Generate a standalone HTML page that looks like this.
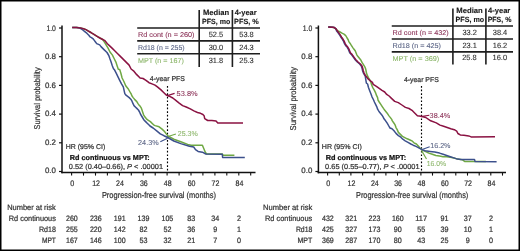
<!DOCTYPE html><html><head><meta charset="utf-8"><style>html,body{margin:0;padding:0;background:#fff;width:520px;height:251px;overflow:hidden}svg{display:block}text{font-family:"Liberation Sans",sans-serif;text-rendering:geometricPrecision;stroke:currentColor;stroke-width:0.22px}</style></head><body><svg style="will-change:transform" width="520" height="251" viewBox="0 0 520 251" font-family="Liberation Sans, sans-serif" fill="#333" color="#333">
<rect x="0" y="0" width="520" height="251" fill="#fff"/>
<line x1="62" y1="25.5" x2="62" y2="173.3" stroke="#111" stroke-width="1.5"/>
<line x1="61.3" y1="172.6" x2="255.5" y2="172.6" stroke="#111" stroke-width="1.5"/>
<line x1="59" y1="28.0" x2="62" y2="28.0" stroke="#111" stroke-width="1.2"/>
<text x="55.9" y="31" font-size="7.9" text-anchor="end" fill="#333333" color="#333333" textLength="9.5" lengthAdjust="spacingAndGlyphs">1.0</text>
<line x1="59" y1="56.7" x2="62" y2="56.7" stroke="#111" stroke-width="1.2"/>
<text x="55.9" y="59" font-size="7.9" text-anchor="end" fill="#333333" color="#333333" textLength="11.0" lengthAdjust="spacingAndGlyphs">0.8</text>
<line x1="59" y1="85.4" x2="62" y2="85.4" stroke="#111" stroke-width="1.2"/>
<text x="55.9" y="88" font-size="7.9" text-anchor="end" fill="#333333" color="#333333" textLength="11.0" lengthAdjust="spacingAndGlyphs">0.6</text>
<line x1="59" y1="114.1" x2="62" y2="114.1" stroke="#111" stroke-width="1.2"/>
<text x="55.9" y="116" font-size="7.9" text-anchor="end" fill="#333333" color="#333333" textLength="11.0" lengthAdjust="spacingAndGlyphs">0.4</text>
<line x1="59" y1="142.8" x2="62" y2="142.8" stroke="#111" stroke-width="1.2"/>
<text x="55.9" y="145" font-size="7.9" text-anchor="end" fill="#333333" color="#333333" textLength="11.0" lengthAdjust="spacingAndGlyphs">0.2</text>
<line x1="59" y1="171.5" x2="62" y2="171.5" stroke="#111" stroke-width="1.2"/>
<text x="55.9" y="173" font-size="7.9" text-anchor="end" fill="#333333" color="#333333" textLength="11.0" lengthAdjust="spacingAndGlyphs">0.0</text>
<line x1="71.6" y1="172.6" x2="71.6" y2="175.6" stroke="#111" stroke-width="1.1"/>
<text x="72.2" y="185.7" font-size="8.0" text-anchor="middle" fill="#333333" color="#333333" textLength="4.0" lengthAdjust="spacingAndGlyphs">0</text>
<line x1="83.5" y1="172.6" x2="83.5" y2="175.6" stroke="#111" stroke-width="1.1"/>
<line x1="95.5" y1="172.6" x2="95.5" y2="175.6" stroke="#111" stroke-width="1.1"/>
<text x="96.1" y="185.7" font-size="8.0" text-anchor="middle" fill="#333333" color="#333333" textLength="7.8" lengthAdjust="spacingAndGlyphs">12</text>
<line x1="107.4" y1="172.6" x2="107.4" y2="175.6" stroke="#111" stroke-width="1.1"/>
<line x1="119.4" y1="172.6" x2="119.4" y2="175.6" stroke="#111" stroke-width="1.1"/>
<text x="120.0" y="185.7" font-size="8.0" text-anchor="middle" fill="#333333" color="#333333" textLength="7.8" lengthAdjust="spacingAndGlyphs">24</text>
<line x1="131.3" y1="172.6" x2="131.3" y2="175.6" stroke="#111" stroke-width="1.1"/>
<line x1="143.2" y1="172.6" x2="143.2" y2="175.6" stroke="#111" stroke-width="1.1"/>
<text x="143.8" y="185.7" font-size="8.0" text-anchor="middle" fill="#333333" color="#333333" textLength="7.8" lengthAdjust="spacingAndGlyphs">36</text>
<line x1="155.2" y1="172.6" x2="155.2" y2="175.6" stroke="#111" stroke-width="1.1"/>
<line x1="167.1" y1="172.6" x2="167.1" y2="175.6" stroke="#111" stroke-width="1.1"/>
<text x="167.7" y="185.7" font-size="8.0" text-anchor="middle" fill="#333333" color="#333333" textLength="7.8" lengthAdjust="spacingAndGlyphs">48</text>
<line x1="179.1" y1="172.6" x2="179.1" y2="175.6" stroke="#111" stroke-width="1.1"/>
<line x1="191.0" y1="172.6" x2="191.0" y2="175.6" stroke="#111" stroke-width="1.1"/>
<text x="191.6" y="185.7" font-size="8.0" text-anchor="middle" fill="#333333" color="#333333" textLength="7.8" lengthAdjust="spacingAndGlyphs">60</text>
<line x1="202.9" y1="172.6" x2="202.9" y2="175.6" stroke="#111" stroke-width="1.1"/>
<line x1="214.9" y1="172.6" x2="214.9" y2="175.6" stroke="#111" stroke-width="1.1"/>
<text x="215.5" y="185.7" font-size="8.0" text-anchor="middle" fill="#333333" color="#333333" textLength="7.8" lengthAdjust="spacingAndGlyphs">72</text>
<line x1="226.8" y1="172.6" x2="226.8" y2="175.6" stroke="#111" stroke-width="1.1"/>
<line x1="238.8" y1="172.6" x2="238.8" y2="175.6" stroke="#111" stroke-width="1.1"/>
<text x="239.4" y="185.7" font-size="8.0" text-anchor="middle" fill="#333333" color="#333333" textLength="7.8" lengthAdjust="spacingAndGlyphs">84</text>
<line x1="250.7" y1="172.6" x2="250.7" y2="175.6" stroke="#111" stroke-width="1.1"/>
<text x="101.9" y="197.8" font-size="8.7" text-anchor="start" fill="#333333" color="#333333" textLength="114.1" lengthAdjust="spacingAndGlyphs">Progression-free survival (months)</text>
<text transform="translate(40.4,129.4) rotate(-90)" font-size="8.4" textLength="62.0" lengthAdjust="spacingAndGlyphs">Survival probability</text>
<line x1="167.5" y1="86" x2="167.5" y2="172.6" stroke="#000" stroke-width="1.15" stroke-dasharray="1.7,1.9"/>
<text x="149.8" y="80.5" font-size="7.0" text-anchor="start" fill="#333333" color="#333333" textLength="35.1" lengthAdjust="spacingAndGlyphs">4-year PFS</text>
<polyline points="72.2,27.4 76.4,27.4 78.8,27.8 81.2,28.1 83.6,28.8 86.0,29.6 88.0,30.8 90.0,32.0 91.9,33.2 93.9,34.4 95.9,35.6 97.9,36.8 99.9,38.0 102.7,39.5 104.6,42.4 106.4,45.4 108.2,48.4 110.0,52.0 112.3,54.9 114.1,58.5 115.9,62.1 117.1,65.7 118.3,69.3 119.7,69.6 120.9,73.2 122.1,78.0 123.9,81.5 125.7,85.7 128.1,88.7 130.0,92.0 131.2,94.0 132.0,96.0 133.2,97.6 134.8,99.6 136.8,101.6 138.0,103.6 139.2,105.2 140.4,106.6 141.2,107.8 142.0,110.0 142.8,112.4 143.6,114.8 144.8,116.8 146.4,118.8 148.4,120.4 150.4,121.6 152.0,123.2 153.6,124.8 155.1,125.6 159.1,126.8 162.1,129.1 164.5,131.5 166.3,133.9 167.8,135.8 173.8,139.2 180.8,141.8 187.7,144.4 191.1,145.3 202.4,145.3 205.3,152.2 206.7,154.0 222.3,154.0 223.1,155.3 234.4,155.3" fill="none" stroke="#6fa843" stroke-width="1.5" stroke-linejoin="round"/>
<polyline points="72.2,27.4 76.4,27.4 78.8,27.8 80.4,28.4 82.8,30.0 84.8,31.6 86.8,33.2 88.8,35.2 90.0,36.8 91.5,37.6 93.1,38.8 94.3,40.4 95.5,42.0 96.7,43.6 99.7,44.9 101.0,46.6 104.0,49.6 107.0,52.5 108.8,55.5 110.0,59.1 111.1,62.1 112.3,65.7 113.5,68.7 114.4,69.6 116.2,73.2 118.0,76.8 119.7,80.3 121.5,83.9 123.3,86.9 124.8,93.6 126.0,95.2 127.6,96.4 129.2,97.6 130.8,99.2 132.0,101.2 132.8,103.2 134.0,105.6 135.6,107.2 136.8,108.4 138.4,110.0 139.6,112.0 140.4,114.0 141.6,116.0 142.8,118.0 144.0,120.0 145.6,121.6 147.2,123.2 148.8,124.8 150.0,126.0 153.1,128.0 156.7,130.9 160.3,133.9 163.9,135.7 167.8,137.5 173.8,141.0 180.8,143.6 189.4,146.2 193.7,147.0 195.5,149.6 198.1,151.4 202.4,152.2 205.8,154.0 222.3,154.3 222.6,157.4 244.8,157.4" fill="none" stroke="#3c508c" stroke-width="1.5" stroke-linejoin="round"/>
<polyline points="72.2,27.4 76.4,27.4 78.8,27.8 81.2,28.1 83.6,28.8 86.0,29.6 88.0,30.8 90.0,32.0 91.9,33.2 93.9,34.4 95.9,35.6 97.9,36.8 99.9,38.0 102.7,39.5 105.0,40.7 107.4,43.7 110.2,46.4 112.3,48.4 114.7,50.8 117.7,53.7 120.1,56.1 123.1,59.1 126.1,62.1 129.1,65.1 131.1,69.0 133.5,70.8 136.5,74.4 140.1,78.0 143.1,78.5 146.0,80.3 149.0,82.7 152.0,83.9 155.0,85.1 157.4,86.9 161.0,89.9 163.4,92.3 166.2,95.0 169.2,96.2 172.8,98.0 175.8,100.4 179.2,103.1 182.6,105.6 186.2,107.0 190.3,108.9 193.9,110.9 197.5,112.5 200.5,113.3 202.9,114.5 204.1,115.7 204.7,118.7 207.7,120.5 211.9,120.5 216.0,120.9 217.8,123.0 243.0,123.0" fill="none" stroke="#8a1242" stroke-width="1.5" stroke-linejoin="round"/>
<line x1="167.4" y1="95.6" x2="174.6" y2="93.4" stroke="#8a1242" stroke-width="1.1"/>
<text x="176.6" y="96.2" font-size="7.2" text-anchor="start" fill="#8c3358" color="#8c3358" textLength="21.0" lengthAdjust="spacingAndGlyphs" style="stroke-width:0.08px">53.8%</text>
<line x1="160.3" y1="141.7" x2="167.6" y2="138.2" stroke="#3c508c" stroke-width="1.1"/>
<text x="138.1" y="144.8" font-size="7.2" text-anchor="start" fill="#5a6485" color="#5a6485" textLength="20.5" lengthAdjust="spacingAndGlyphs" style="stroke-width:0.08px">24.3%</text>
<line x1="168.1" y1="136.6" x2="175.9" y2="133.9" stroke="#6fa843" stroke-width="1.1"/>
<text x="177.8" y="136.0" font-size="7.2" text-anchor="start" fill="#8cb66a" color="#8cb66a" textLength="20.0" lengthAdjust="spacingAndGlyphs" style="stroke-width:0.08px">25.3%</text>
<text x="65.8" y="149.4" font-size="7.0" text-anchor="start" fill="#333333" color="#333333" textLength="39.5" lengthAdjust="spacingAndGlyphs">HR (95% CI)</text>
<text x="69.8" y="159.5" font-size="7.2" text-anchor="start" font-weight="bold" fill="#111" color="#111" textLength="80.0" lengthAdjust="spacingAndGlyphs">Rd continuous vs MPT:</text>
<text x="68.8" y="169.4" font-size="7.2" textLength="94.2" lengthAdjust="spacingAndGlyphs">0.52 (0.40&#8211;0.66), <tspan font-style="italic">P</tspan> &lt; .00001</text>
<line x1="137.2" y1="28.0" x2="260" y2="28.0" stroke="#1e1e1e" stroke-width="1.6"/>
<line x1="137.2" y1="40.9" x2="260" y2="40.9" stroke="#1e1e1e" stroke-width="1.6"/>
<line x1="137.2" y1="53.8" x2="260" y2="53.8" stroke="#1e1e1e" stroke-width="1.6"/>
<line x1="199.2" y1="10" x2="199.2" y2="67" stroke="#1e1e1e" stroke-width="1.6"/>
<line x1="232.4" y1="10" x2="232.4" y2="67" stroke="#1e1e1e" stroke-width="1.6"/>
<text x="203" y="15.4" font-size="7.5" text-anchor="start" font-weight="bold" fill="#1a1a1a" color="#1a1a1a" textLength="26.2" lengthAdjust="spacingAndGlyphs" style="stroke-width:0.12px">Median</text>
<text x="202.1" y="24" font-size="7.5" text-anchor="start" font-weight="bold" fill="#1a1a1a" color="#1a1a1a" textLength="28.2" lengthAdjust="spacingAndGlyphs" style="stroke-width:0.12px">PFS, mo</text>
<text x="234.7" y="15.4" font-size="7.5" text-anchor="start" font-weight="bold" fill="#1a1a1a" color="#1a1a1a" textLength="22" lengthAdjust="spacingAndGlyphs" style="stroke-width:0.12px">4-year</text>
<text x="234.1" y="24" font-size="7.5" text-anchor="start" font-weight="bold" fill="#1a1a1a" color="#1a1a1a" textLength="24.7" lengthAdjust="spacingAndGlyphs" style="stroke-width:0.12px">PFS, %</text>
<text x="138" y="37" font-size="7.0" text-anchor="start" fill="#8c3358" color="#8c3358" textLength="56.5" lengthAdjust="spacingAndGlyphs" style="stroke-width:0.1px">Rd cont (n = 260)</text>
<text x="138" y="49.9" font-size="7.0" text-anchor="start" fill="#5a6485" color="#5a6485" textLength="46.7" lengthAdjust="spacingAndGlyphs" style="stroke-width:0.1px">Rd18 (n = 255)</text>
<text x="138" y="62.6" font-size="7.0" text-anchor="start" fill="#8cb66a" color="#8cb66a" textLength="45.8" lengthAdjust="spacingAndGlyphs" style="stroke-width:0.1px">MPT (n = 167)</text>
<text x="215.9" y="37.4" font-size="7.6" text-anchor="middle" fill="#333333" color="#333333" textLength="14.5" lengthAdjust="spacingAndGlyphs" style="stroke-width:0.12px">52.5</text>
<text x="246.5" y="37.4" font-size="7.6" text-anchor="middle" fill="#333333" color="#333333" textLength="14.5" lengthAdjust="spacingAndGlyphs" style="stroke-width:0.12px">53.8</text>
<text x="215.9" y="49.8" font-size="7.6" text-anchor="middle" fill="#333333" color="#333333" textLength="14.5" lengthAdjust="spacingAndGlyphs" style="stroke-width:0.12px">30.0</text>
<text x="246.5" y="49.8" font-size="7.6" text-anchor="middle" fill="#333333" color="#333333" textLength="14.5" lengthAdjust="spacingAndGlyphs" style="stroke-width:0.12px">24.3</text>
<text x="215.9" y="62.8" font-size="7.6" text-anchor="middle" fill="#333333" color="#333333" textLength="14.5" lengthAdjust="spacingAndGlyphs" style="stroke-width:0.12px">31.8</text>
<text x="246.5" y="62.8" font-size="7.6" text-anchor="middle" fill="#333333" color="#333333" textLength="14.5" lengthAdjust="spacingAndGlyphs" style="stroke-width:0.12px">25.3</text>
<text x="7.2" y="210.3" font-size="7.8" text-anchor="start" fill="#333333" color="#333333" textLength="48.5" lengthAdjust="spacingAndGlyphs">Number at risk</text>
<text x="55.9" y="221.2" font-size="7.8" text-anchor="end" fill="#333333" color="#333333" textLength="47.1" lengthAdjust="spacingAndGlyphs">Rd continuous</text>
<text x="55.9" y="232.2" font-size="7.8" text-anchor="end" fill="#333333" color="#333333" textLength="17.0" lengthAdjust="spacingAndGlyphs">Rd18</text>
<text x="55.9" y="243.0" font-size="7.8" text-anchor="end" fill="#333333" color="#333333" textLength="14.0" lengthAdjust="spacingAndGlyphs">MPT</text>
<text x="71.9" y="221.3" font-size="7.8" text-anchor="middle" fill="#333333" color="#333333" textLength="11.8" lengthAdjust="spacingAndGlyphs">260</text>
<text x="95.8" y="221.3" font-size="7.8" text-anchor="middle" fill="#333333" color="#333333" textLength="11.8" lengthAdjust="spacingAndGlyphs">236</text>
<text x="119.7" y="221.3" font-size="7.8" text-anchor="middle" fill="#333333" color="#333333" textLength="11.8" lengthAdjust="spacingAndGlyphs">191</text>
<text x="143.5" y="221.3" font-size="7.8" text-anchor="middle" fill="#333333" color="#333333" textLength="11.8" lengthAdjust="spacingAndGlyphs">139</text>
<text x="167.4" y="221.3" font-size="7.8" text-anchor="middle" fill="#333333" color="#333333" textLength="11.8" lengthAdjust="spacingAndGlyphs">105</text>
<text x="191.3" y="221.3" font-size="7.8" text-anchor="middle" fill="#333333" color="#333333" textLength="8.0" lengthAdjust="spacingAndGlyphs">83</text>
<text x="215.2" y="221.3" font-size="7.8" text-anchor="middle" fill="#333333" color="#333333" textLength="8.0" lengthAdjust="spacingAndGlyphs">34</text>
<text x="239.1" y="221.3" font-size="7.8" text-anchor="middle" fill="#333333" color="#333333" textLength="4.0" lengthAdjust="spacingAndGlyphs">2</text>
<text x="71.9" y="232.3" font-size="7.8" text-anchor="middle" fill="#333333" color="#333333" textLength="11.8" lengthAdjust="spacingAndGlyphs">255</text>
<text x="95.8" y="232.3" font-size="7.8" text-anchor="middle" fill="#333333" color="#333333" textLength="11.8" lengthAdjust="spacingAndGlyphs">220</text>
<text x="119.7" y="232.3" font-size="7.8" text-anchor="middle" fill="#333333" color="#333333" textLength="11.8" lengthAdjust="spacingAndGlyphs">142</text>
<text x="143.5" y="232.3" font-size="7.8" text-anchor="middle" fill="#333333" color="#333333" textLength="8.0" lengthAdjust="spacingAndGlyphs">82</text>
<text x="167.4" y="232.3" font-size="7.8" text-anchor="middle" fill="#333333" color="#333333" textLength="8.0" lengthAdjust="spacingAndGlyphs">52</text>
<text x="191.3" y="232.3" font-size="7.8" text-anchor="middle" fill="#333333" color="#333333" textLength="8.0" lengthAdjust="spacingAndGlyphs">36</text>
<text x="215.2" y="232.3" font-size="7.8" text-anchor="middle" fill="#333333" color="#333333" textLength="4.0" lengthAdjust="spacingAndGlyphs">9</text>
<text x="239.1" y="232.3" font-size="7.8" text-anchor="middle" fill="#333333" color="#333333" textLength="4.0" lengthAdjust="spacingAndGlyphs">1</text>
<text x="71.9" y="243.2" font-size="7.8" text-anchor="middle" fill="#333333" color="#333333" textLength="11.8" lengthAdjust="spacingAndGlyphs">167</text>
<text x="95.8" y="243.2" font-size="7.8" text-anchor="middle" fill="#333333" color="#333333" textLength="11.8" lengthAdjust="spacingAndGlyphs">146</text>
<text x="119.7" y="243.2" font-size="7.8" text-anchor="middle" fill="#333333" color="#333333" textLength="11.8" lengthAdjust="spacingAndGlyphs">100</text>
<text x="143.5" y="243.2" font-size="7.8" text-anchor="middle" fill="#333333" color="#333333" textLength="8.0" lengthAdjust="spacingAndGlyphs">53</text>
<text x="167.4" y="243.2" font-size="7.8" text-anchor="middle" fill="#333333" color="#333333" textLength="8.0" lengthAdjust="spacingAndGlyphs">32</text>
<text x="191.3" y="243.2" font-size="7.8" text-anchor="middle" fill="#333333" color="#333333" textLength="8.0" lengthAdjust="spacingAndGlyphs">21</text>
<text x="215.2" y="243.2" font-size="7.8" text-anchor="middle" fill="#333333" color="#333333" textLength="4.0" lengthAdjust="spacingAndGlyphs">7</text>
<text x="239.1" y="243.2" font-size="7.8" text-anchor="middle" fill="#333333" color="#333333" textLength="4.0" lengthAdjust="spacingAndGlyphs">0</text>
<line x1="318.4" y1="25.5" x2="318.4" y2="173.3" stroke="#111" stroke-width="1.5"/>
<line x1="317.7" y1="172.6" x2="506" y2="172.6" stroke="#111" stroke-width="1.5"/>
<line x1="315.4" y1="28.0" x2="318.4" y2="28.0" stroke="#111" stroke-width="1.2"/>
<text x="312.3" y="31" font-size="7.9" text-anchor="end" fill="#333333" color="#333333" textLength="9.5" lengthAdjust="spacingAndGlyphs">1.0</text>
<line x1="315.4" y1="56.7" x2="318.4" y2="56.7" stroke="#111" stroke-width="1.2"/>
<text x="312.3" y="59" font-size="7.9" text-anchor="end" fill="#333333" color="#333333" textLength="11.0" lengthAdjust="spacingAndGlyphs">0.8</text>
<line x1="315.4" y1="85.4" x2="318.4" y2="85.4" stroke="#111" stroke-width="1.2"/>
<text x="312.3" y="88" font-size="7.9" text-anchor="end" fill="#333333" color="#333333" textLength="11.0" lengthAdjust="spacingAndGlyphs">0.6</text>
<line x1="315.4" y1="114.1" x2="318.4" y2="114.1" stroke="#111" stroke-width="1.2"/>
<text x="312.3" y="116" font-size="7.9" text-anchor="end" fill="#333333" color="#333333" textLength="11.0" lengthAdjust="spacingAndGlyphs">0.4</text>
<line x1="315.4" y1="142.8" x2="318.4" y2="142.8" stroke="#111" stroke-width="1.2"/>
<text x="312.3" y="145" font-size="7.9" text-anchor="end" fill="#333333" color="#333333" textLength="11.0" lengthAdjust="spacingAndGlyphs">0.2</text>
<line x1="315.4" y1="171.5" x2="318.4" y2="171.5" stroke="#111" stroke-width="1.2"/>
<text x="312.3" y="173" font-size="7.9" text-anchor="end" fill="#333333" color="#333333" textLength="11.0" lengthAdjust="spacingAndGlyphs">0.0</text>
<line x1="327.6" y1="172.6" x2="327.6" y2="175.6" stroke="#111" stroke-width="1.1"/>
<text x="328.2" y="185.7" font-size="8.0" text-anchor="middle" fill="#333333" color="#333333" textLength="4.0" lengthAdjust="spacingAndGlyphs">0</text>
<line x1="339.3" y1="172.6" x2="339.3" y2="175.6" stroke="#111" stroke-width="1.1"/>
<line x1="350.9" y1="172.6" x2="350.9" y2="175.6" stroke="#111" stroke-width="1.1"/>
<text x="351.5" y="185.7" font-size="8.0" text-anchor="middle" fill="#333333" color="#333333" textLength="7.8" lengthAdjust="spacingAndGlyphs">12</text>
<line x1="362.6" y1="172.6" x2="362.6" y2="175.6" stroke="#111" stroke-width="1.1"/>
<line x1="374.2" y1="172.6" x2="374.2" y2="175.6" stroke="#111" stroke-width="1.1"/>
<text x="374.8" y="185.7" font-size="8.0" text-anchor="middle" fill="#333333" color="#333333" textLength="7.8" lengthAdjust="spacingAndGlyphs">24</text>
<line x1="385.9" y1="172.6" x2="385.9" y2="175.6" stroke="#111" stroke-width="1.1"/>
<line x1="397.5" y1="172.6" x2="397.5" y2="175.6" stroke="#111" stroke-width="1.1"/>
<text x="398.1" y="185.7" font-size="8.0" text-anchor="middle" fill="#333333" color="#333333" textLength="7.8" lengthAdjust="spacingAndGlyphs">36</text>
<line x1="409.2" y1="172.6" x2="409.2" y2="175.6" stroke="#111" stroke-width="1.1"/>
<line x1="420.9" y1="172.6" x2="420.9" y2="175.6" stroke="#111" stroke-width="1.1"/>
<text x="421.5" y="185.7" font-size="8.0" text-anchor="middle" fill="#333333" color="#333333" textLength="7.8" lengthAdjust="spacingAndGlyphs">48</text>
<line x1="432.5" y1="172.6" x2="432.5" y2="175.6" stroke="#111" stroke-width="1.1"/>
<line x1="444.2" y1="172.6" x2="444.2" y2="175.6" stroke="#111" stroke-width="1.1"/>
<text x="444.8" y="185.7" font-size="8.0" text-anchor="middle" fill="#333333" color="#333333" textLength="7.8" lengthAdjust="spacingAndGlyphs">60</text>
<line x1="455.8" y1="172.6" x2="455.8" y2="175.6" stroke="#111" stroke-width="1.1"/>
<line x1="467.5" y1="172.6" x2="467.5" y2="175.6" stroke="#111" stroke-width="1.1"/>
<text x="468.1" y="185.7" font-size="8.0" text-anchor="middle" fill="#333333" color="#333333" textLength="7.8" lengthAdjust="spacingAndGlyphs">72</text>
<line x1="479.2" y1="172.6" x2="479.2" y2="175.6" stroke="#111" stroke-width="1.1"/>
<line x1="490.8" y1="172.6" x2="490.8" y2="175.6" stroke="#111" stroke-width="1.1"/>
<text x="491.4" y="185.7" font-size="8.0" text-anchor="middle" fill="#333333" color="#333333" textLength="7.8" lengthAdjust="spacingAndGlyphs">84</text>
<line x1="502.5" y1="172.6" x2="502.5" y2="175.6" stroke="#111" stroke-width="1.1"/>
<text x="356.0" y="198.2" font-size="8.7" text-anchor="start" fill="#333333" color="#333333" textLength="112.3" lengthAdjust="spacingAndGlyphs">Progression-free survival (months)</text>
<text transform="translate(296.4,130.4) rotate(-90)" font-size="8.4" textLength="63.4" lengthAdjust="spacingAndGlyphs">Survival probability</text>
<line x1="421.5" y1="86" x2="421.5" y2="172.6" stroke="#000" stroke-width="1.15" stroke-dasharray="1.7,1.9"/>
<text x="403.9" y="81.5" font-size="7.0" text-anchor="start" fill="#333333" color="#333333" textLength="34.9" lengthAdjust="spacingAndGlyphs">4-year PFS</text>
<polyline points="328.2,26.9 332.4,27.2 334.4,27.8 336.0,29.2 338.0,30.8 340.0,32.0 342.0,33.2 344.4,34.4 346.0,36.0 347.1,38.0 348.3,40.0 348.8,41.6 350.0,43.2 351.2,45.2 352.8,47.6 354.0,49.2 355.2,50.8 356.0,52.8 356.8,54.8 357.6,56.0 359.2,58.0 360.8,60.0 362.0,62.4 363.6,64.8 364.8,66.8 365.6,68.8 366.0,70.4 366.4,72.8 367.2,75.2 368.4,77.6 369.6,79.6 370.8,82.0 371.6,84.8 372.8,87.6 374.4,90.4 375.6,92.8 376.4,95.2 377.6,97.6 378.0,100.0 379.2,102.0 380.8,104.4 382.4,106.8 384.0,109.2 385.6,111.2 387.2,113.2 388.8,115.6 390.4,117.6 391.9,119.6 392.0,120.4 394.0,123.2 395.2,125.2 396.0,127.6 397.2,129.6 398.4,132.4 400.4,134.4 402.4,136.4 404.8,137.6 407.2,138.8 410.0,140.0 412.4,141.2 414.0,142.8 416.4,144.0 418.3,146.0 420.0,148.0 421.5,149.2 422.2,150.1 425.2,151.4 428.8,153.1 432.3,154.3 435.9,155.5 439.5,156.1 443.1,156.7 446.7,156.7 450.3,157.3 453.9,157.9 457.4,159.1 462.2,159.7 464.6,161.4 485.9,161.5" fill="none" stroke="#6fa843" stroke-width="1.5" stroke-linejoin="round"/>
<polyline points="328.2,26.9 332.4,27.2 334.4,27.6 336.0,28.8 336.5,30.8 338.1,32.8 339.7,35.2 340.9,37.2 342.1,38.8 343.3,40.8 344.5,43.6 345.7,45.6 346.9,46.8 348.1,48.8 348.9,50.8 349.7,52.8 351.3,54.4 352.9,56.6 354.9,59.4 357.3,62.0 359.7,64.0 361.3,66.0 362.1,68.4 362.5,70.4 363.3,72.8 365.2,76.0 365.6,78.4 366.0,80.8 366.4,83.2 367.6,84.0 368.4,87.2 369.6,90.4 370.8,93.6 372.0,96.8 373.6,100.0 374.4,102.0 375.6,104.4 376.8,106.8 377.6,109.2 378.8,111.2 380.4,113.2 382.0,115.2 383.2,117.2 384.0,118.8 385.6,120.8 387.2,123.2 388.8,126.0 390.0,128.0 392.0,128.8 394.0,130.8 396.0,133.4 398.4,135.6 400.8,137.2 402.8,139.2 405.2,140.8 408.0,142.4 410.8,144.0 413.2,145.2 416.0,146.4 418.3,147.6 420.7,148.8 421.6,149.6 425.2,150.8 430.0,151.4 434.7,152.0 439.5,153.1 443.1,154.3 446.7,155.5 450.3,156.7 453.9,157.9 457.4,159.1 461.0,159.4 474.5,159.4 475.1,161.6 496.6,161.8" fill="none" stroke="#3c508c" stroke-width="1.5" stroke-linejoin="round"/>
<polyline points="328.2,26.9 332.4,27.2 334.4,27.6 336.0,28.8 337.2,30.8 338.8,32.8 340.4,35.2 341.6,37.2 342.8,38.8 344.0,40.8 345.2,43.6 346.4,45.6 347.6,46.8 348.8,48.8 349.6,50.8 350.4,52.8 352.0,54.4 353.6,56.6 355.6,59.4 358.0,62.0 360.4,64.0 362.0,66.0 362.8,68.4 363.2,70.4 364.0,72.8 365.2,75.2 366.8,77.2 368.4,79.2 370.4,80.8 372.4,82.4 373.2,84.4 376.4,86.4 379.2,88.4 382.0,90.4 384.7,92.0 386.7,94.4 389.1,96.0 391.5,98.4 394.7,101.4 398.3,102.6 401.9,105.0 405.4,107.4 409.0,108.5 412.0,110.3 414.4,112.7 417.4,115.7 421.0,116.3 425.8,117.5 430.7,120.8 436.3,122.9 440.0,125.1 443.6,126.3 447.2,127.5 450.8,128.7 454.3,129.7 456.7,131.1 457.9,133.5 460.3,134.9 463.9,135.3 468.7,135.9 471.1,136.9 495.0,136.7" fill="none" stroke="#8a1242" stroke-width="1.5" stroke-linejoin="round"/>
<line x1="420.9" y1="116.6" x2="429.3" y2="115.2" stroke="#8a1242" stroke-width="1.1"/>
<text x="429.6" y="117.6" font-size="7.2" text-anchor="start" fill="#8c3358" color="#8c3358" textLength="20.6" lengthAdjust="spacingAndGlyphs" style="stroke-width:0.08px">38.4%</text>
<line x1="422.1" y1="149.5" x2="429.7" y2="146.7" stroke="#3c508c" stroke-width="1.1"/>
<text x="430.2" y="148.0" font-size="7.2" text-anchor="start" fill="#5a6485" color="#5a6485" textLength="20.3" lengthAdjust="spacingAndGlyphs" style="stroke-width:0.08px">16.2%</text>
<line x1="421.6" y1="150.6" x2="426.5" y2="159.0" stroke="#6fa843" stroke-width="1.1"/>
<text x="426.8" y="165.9" font-size="7.2" text-anchor="start" fill="#8cb66a" color="#8cb66a" textLength="19.3" lengthAdjust="spacingAndGlyphs" style="stroke-width:0.08px">16.0%</text>
<text x="321.8" y="149.2" font-size="7.0" text-anchor="start" fill="#333333" color="#333333" textLength="40.0" lengthAdjust="spacingAndGlyphs">HR (95% CI)</text>
<text x="325.7" y="159.5" font-size="7.2" text-anchor="start" font-weight="bold" fill="#111" color="#111" textLength="80.5" lengthAdjust="spacingAndGlyphs">Rd continuous vs MPT:</text>
<text x="325.1" y="169.0" font-size="7.2" textLength="94.5" lengthAdjust="spacingAndGlyphs">0.65 (0.55&#8211;0.77), <tspan font-style="italic">P</tspan> &lt; .00001</text>
<line x1="391.75" y1="26.0" x2="513" y2="26.0" stroke="#1e1e1e" stroke-width="1.6"/>
<line x1="391.75" y1="39.0" x2="513" y2="39.0" stroke="#1e1e1e" stroke-width="1.6"/>
<line x1="391.75" y1="51.9" x2="513" y2="51.9" stroke="#1e1e1e" stroke-width="1.6"/>
<line x1="452.9" y1="8.4" x2="452.9" y2="64.5" stroke="#1e1e1e" stroke-width="1.6"/>
<line x1="485.9" y1="8.4" x2="485.9" y2="64.5" stroke="#1e1e1e" stroke-width="1.6"/>
<text x="456.3" y="13.2" font-size="7.5" text-anchor="start" font-weight="bold" fill="#1a1a1a" color="#1a1a1a" textLength="26.5" lengthAdjust="spacingAndGlyphs" style="stroke-width:0.12px">Median</text>
<text x="455.6" y="21.6" font-size="7.5" text-anchor="start" font-weight="bold" fill="#1a1a1a" color="#1a1a1a" textLength="28.6" lengthAdjust="spacingAndGlyphs" style="stroke-width:0.12px">PFS, mo</text>
<text x="488" y="13.2" font-size="7.5" text-anchor="start" font-weight="bold" fill="#1a1a1a" color="#1a1a1a" textLength="22.3" lengthAdjust="spacingAndGlyphs" style="stroke-width:0.12px">4-year</text>
<text x="487.7" y="21.6" font-size="7.5" text-anchor="start" font-weight="bold" fill="#1a1a1a" color="#1a1a1a" textLength="23.7" lengthAdjust="spacingAndGlyphs" style="stroke-width:0.12px">PFS, %</text>
<text x="392.5" y="34.6" font-size="7.0" text-anchor="start" fill="#8c3358" color="#8c3358" textLength="56.25" lengthAdjust="spacingAndGlyphs" style="stroke-width:0.1px">Rd cont (n = 432)</text>
<text x="392.5" y="47.8" font-size="7.0" text-anchor="start" fill="#5a6485" color="#5a6485" textLength="48.5" lengthAdjust="spacingAndGlyphs" style="stroke-width:0.1px">Rd18 (n = 425)</text>
<text x="392.5" y="60.8" font-size="7.0" text-anchor="start" fill="#8cb66a" color="#8cb66a" textLength="46.75" lengthAdjust="spacingAndGlyphs" style="stroke-width:0.1px">MPT (n = 369)</text>
<text x="469.7" y="35.2" font-size="7.6" text-anchor="middle" fill="#333333" color="#333333" textLength="14.5" lengthAdjust="spacingAndGlyphs" style="stroke-width:0.12px">33.2</text>
<text x="500" y="35.2" font-size="7.6" text-anchor="middle" fill="#333333" color="#333333" textLength="14.5" lengthAdjust="spacingAndGlyphs" style="stroke-width:0.12px">38.4</text>
<text x="469.7" y="48.2" font-size="7.6" text-anchor="middle" fill="#333333" color="#333333" textLength="14.5" lengthAdjust="spacingAndGlyphs" style="stroke-width:0.12px">23.1</text>
<text x="500" y="48.2" font-size="7.6" text-anchor="middle" fill="#333333" color="#333333" textLength="14.5" lengthAdjust="spacingAndGlyphs" style="stroke-width:0.12px">16.2</text>
<text x="469.4" y="60.3" font-size="7.6" text-anchor="middle" fill="#333333" color="#333333" textLength="14.5" lengthAdjust="spacingAndGlyphs" style="stroke-width:0.12px">25.8</text>
<text x="499.8" y="60.3" font-size="7.6" text-anchor="middle" fill="#333333" color="#333333" textLength="14.5" lengthAdjust="spacingAndGlyphs" style="stroke-width:0.12px">16.0</text>
<text x="263" y="210.3" font-size="7.8" text-anchor="start" fill="#333333" color="#333333" textLength="49.3" lengthAdjust="spacingAndGlyphs">Number at risk</text>
<text x="312.3" y="221.2" font-size="7.8" text-anchor="end" fill="#333333" color="#333333" textLength="47.3" lengthAdjust="spacingAndGlyphs">Rd continuous</text>
<text x="312.3" y="232.2" font-size="7.8" text-anchor="end" fill="#333333" color="#333333" textLength="16.4" lengthAdjust="spacingAndGlyphs">Rd18</text>
<text x="312.3" y="243.0" font-size="7.8" text-anchor="end" fill="#333333" color="#333333" textLength="14.8" lengthAdjust="spacingAndGlyphs">MPT</text>
<text x="327.9" y="221.3" font-size="7.8" text-anchor="middle" fill="#333333" color="#333333" textLength="11.8" lengthAdjust="spacingAndGlyphs">432</text>
<text x="351.2" y="221.3" font-size="7.8" text-anchor="middle" fill="#333333" color="#333333" textLength="11.8" lengthAdjust="spacingAndGlyphs">321</text>
<text x="374.5" y="221.3" font-size="7.8" text-anchor="middle" fill="#333333" color="#333333" textLength="11.8" lengthAdjust="spacingAndGlyphs">223</text>
<text x="397.8" y="221.3" font-size="7.8" text-anchor="middle" fill="#333333" color="#333333" textLength="11.8" lengthAdjust="spacingAndGlyphs">160</text>
<text x="421.2" y="221.3" font-size="7.8" text-anchor="middle" fill="#333333" color="#333333" textLength="11.8" lengthAdjust="spacingAndGlyphs">117</text>
<text x="444.5" y="221.3" font-size="7.8" text-anchor="middle" fill="#333333" color="#333333" textLength="8.0" lengthAdjust="spacingAndGlyphs">91</text>
<text x="467.8" y="221.3" font-size="7.8" text-anchor="middle" fill="#333333" color="#333333" textLength="8.0" lengthAdjust="spacingAndGlyphs">37</text>
<text x="491.1" y="221.3" font-size="7.8" text-anchor="middle" fill="#333333" color="#333333" textLength="4.0" lengthAdjust="spacingAndGlyphs">2</text>
<text x="327.9" y="232.3" font-size="7.8" text-anchor="middle" fill="#333333" color="#333333" textLength="11.8" lengthAdjust="spacingAndGlyphs">425</text>
<text x="351.2" y="232.3" font-size="7.8" text-anchor="middle" fill="#333333" color="#333333" textLength="11.8" lengthAdjust="spacingAndGlyphs">327</text>
<text x="374.5" y="232.3" font-size="7.8" text-anchor="middle" fill="#333333" color="#333333" textLength="11.8" lengthAdjust="spacingAndGlyphs">173</text>
<text x="397.8" y="232.3" font-size="7.8" text-anchor="middle" fill="#333333" color="#333333" textLength="8.0" lengthAdjust="spacingAndGlyphs">90</text>
<text x="421.2" y="232.3" font-size="7.8" text-anchor="middle" fill="#333333" color="#333333" textLength="8.0" lengthAdjust="spacingAndGlyphs">55</text>
<text x="444.5" y="232.3" font-size="7.8" text-anchor="middle" fill="#333333" color="#333333" textLength="8.0" lengthAdjust="spacingAndGlyphs">39</text>
<text x="467.8" y="232.3" font-size="7.8" text-anchor="middle" fill="#333333" color="#333333" textLength="8.0" lengthAdjust="spacingAndGlyphs">10</text>
<text x="491.1" y="232.3" font-size="7.8" text-anchor="middle" fill="#333333" color="#333333" textLength="4.0" lengthAdjust="spacingAndGlyphs">1</text>
<text x="327.9" y="243.2" font-size="7.8" text-anchor="middle" fill="#333333" color="#333333" textLength="11.8" lengthAdjust="spacingAndGlyphs">369</text>
<text x="351.2" y="243.2" font-size="7.8" text-anchor="middle" fill="#333333" color="#333333" textLength="11.8" lengthAdjust="spacingAndGlyphs">287</text>
<text x="374.5" y="243.2" font-size="7.8" text-anchor="middle" fill="#333333" color="#333333" textLength="11.8" lengthAdjust="spacingAndGlyphs">170</text>
<text x="397.8" y="243.2" font-size="7.8" text-anchor="middle" fill="#333333" color="#333333" textLength="8.0" lengthAdjust="spacingAndGlyphs">80</text>
<text x="421.2" y="243.2" font-size="7.8" text-anchor="middle" fill="#333333" color="#333333" textLength="8.0" lengthAdjust="spacingAndGlyphs">43</text>
<text x="444.5" y="243.2" font-size="7.8" text-anchor="middle" fill="#333333" color="#333333" textLength="8.0" lengthAdjust="spacingAndGlyphs">25</text>
<text x="467.8" y="243.2" font-size="7.8" text-anchor="middle" fill="#333333" color="#333333" textLength="4.0" lengthAdjust="spacingAndGlyphs">9</text>
<text x="491.1" y="243.2" font-size="7.8" text-anchor="middle" fill="#333333" color="#333333" textLength="4.0" lengthAdjust="spacingAndGlyphs">0</text>
<path d="M0 0H520V1.5H0Z M0 0H1.5V251H0Z M518.5 0H520V251H518.5Z M0 249.4H520V251H0Z" fill="#000"/>
</svg></body></html>
